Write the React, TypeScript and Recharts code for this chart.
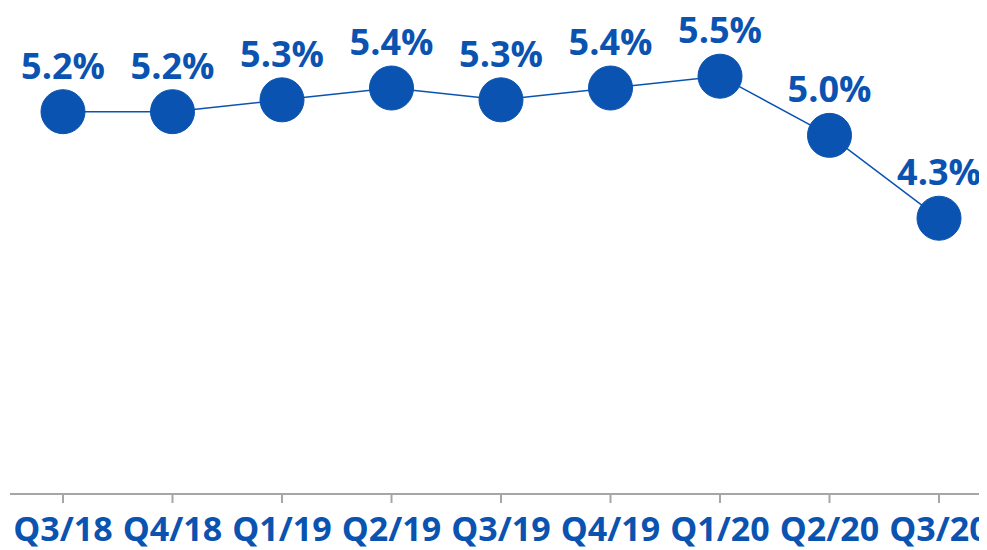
import React from 'react';
import { LineChart, Line, XAxis, YAxis, LabelList } from 'recharts';

const quarters = ['Q3/18', 'Q4/18', 'Q1/19', 'Q2/19', 'Q3/19', 'Q4/19', 'Q1/20', 'Q2/20', 'Q3/20'];
const rates = [5.2, 5.2, 5.3, 5.4, 5.3, 5.4, 5.5, 5.0, 4.3];

const data = quarters.map((q, i) => ({ q, v: rates[i] }));

const BLUE = '#0a53b1';
const FONT = '"Open Sans", sans-serif';

export default function App() {
  return (
    <div style={{ width: 979, height: 542, overflow: 'hidden' }}>
      <LineChart width={985} height={542} data={data} margin={{ top: 9, right: 0, bottom: 0, left: 2 }}>
        <XAxis
          dataKey="q"
          scale="point"
          padding={{ left: 53, right: 54 }}
          height={56}
          tickSize={9}
          tickMargin={14}
          axisLine={{ stroke: '#a6a6a6', strokeWidth: 2 }}
          tickLine={{ stroke: '#a6a6a6', strokeWidth: 2 }}
          tick={{ fill: BLUE, fontSize: 34, fontWeight: 700, fontFamily: FONT }}
          interval={0}
        />
        <YAxis hide domain={[1.97, 6]} />
        <Line
          dataKey="v"
          stroke={BLUE}
          strokeWidth={1.5}
          dot={{ r: 22, fill: BLUE, stroke: BLUE, strokeWidth: 1 }}
          activeDot={false}
          isAnimationActive={false}
        >
          <LabelList
            dataKey="v"
            position="top"
            offset={33}
            formatter={(v: number) => v.toFixed(1) + '%'}
            fill={BLUE}
            fontSize={36}
            fontWeight={700}
            fontFamily={FONT}
          />
        </Line>
      </LineChart>
    </div>
  );
}
